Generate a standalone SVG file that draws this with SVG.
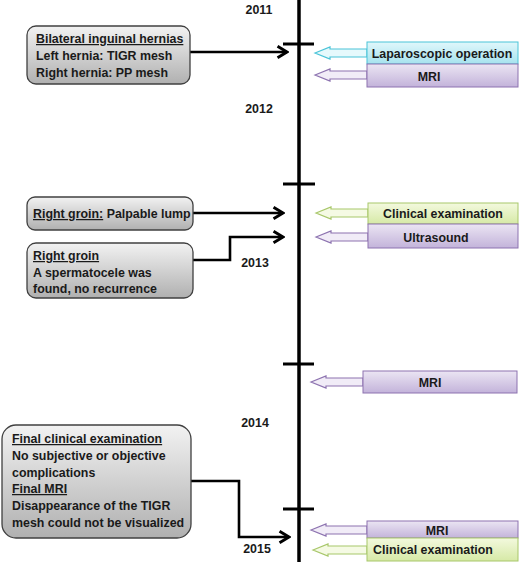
<svg xmlns="http://www.w3.org/2000/svg" width="520" height="562" viewBox="0 0 520 562">
<defs>
<linearGradient id="gGray" x1="0" y1="0" x2="0" y2="1"><stop offset="0" stop-color="#f2f2f2"/><stop offset="1" stop-color="#b0b0b0"/></linearGradient>
<linearGradient id="gCyan" x1="0" y1="0" x2="0" y2="1"><stop offset="0" stop-color="#e0f7fb"/><stop offset="1" stop-color="#a6e3ee"/></linearGradient>
<linearGradient id="gPurple" x1="0" y1="0" x2="0" y2="1"><stop offset="0" stop-color="#ebe5f3"/><stop offset="1" stop-color="#c3b3da"/></linearGradient>
<linearGradient id="gGreen" x1="0" y1="0" x2="0" y2="1"><stop offset="0" stop-color="#f3f9de"/><stop offset="1" stop-color="#d6e9a6"/></linearGradient>
<marker id="ah" viewBox="0 0 10 10" refX="8.5" refY="5" markerWidth="5.2" markerHeight="5.2" orient="auto" markerUnits="strokeWidth">
<path d="M1.5,0.8 L8.5,5 L1.5,9.2" fill="none" stroke="#000" stroke-width="2.2"/>
</marker>
<style>
text{font-family:"Liberation Sans",Arial,sans-serif;font-weight:bold;font-size:12.4px;fill:#1a1a1a}
.box{fill:url(#gGray);stroke:#404040;stroke-width:1.3}
.con{fill:none;stroke:#000;stroke-width:2.6;marker-end:url(#ah)}
.cy{fill:url(#gCyan);stroke:#4bc4d8;stroke-width:1}
.pu{fill:url(#gPurple);stroke:#8d73b0;stroke-width:1}
.gr{fill:url(#gGreen);stroke:#a8c76a;stroke-width:1}
.cya{fill:#e6f9fc;stroke:#4bc4d8;stroke-width:1.2}
.pua{fill:#f1ecf7;stroke:#8d73b0;stroke-width:1.2}
.gra{fill:#f5fae4;stroke:#a8c76a;stroke-width:1.2}
.c{text-anchor:middle}
.u{text-decoration:underline}
</style>
</defs>

<g id="timeline">
<line x1="299" y1="0" x2="299" y2="562" stroke="#000" stroke-width="3.5"/>
<line x1="283" y1="44" x2="314" y2="44" stroke="#000" stroke-width="3"/>
<line x1="283" y1="184" x2="315" y2="184" stroke="#000" stroke-width="3"/>
<line x1="283" y1="364" x2="314" y2="364" stroke="#000" stroke-width="3"/>
<line x1="283" y1="509" x2="314" y2="509" stroke="#000" stroke-width="3"/>
</g>

<g id="years">
<text x="259" y="14" class="c">2011</text>
<text x="259" y="113" class="c">2012</text>
<text x="255" y="267" class="c">2013</text>
<text x="255" y="427" class="c">2014</text>
<text x="257" y="553" class="c">2015</text>
</g>

<g id="connectors">
<path class="con" d="M190,52 H287"/>
<path class="con" d="M193,213 H283"/>
<path class="con" d="M193,260 H230 V237 H283"/>
<path class="con" d="M191,481 H239 V537 H289"/>
</g>

<g id="box1">
<rect class="box" x="27" y="26" width="163" height="58" rx="9"/>
<text x="36" y="43" class="u">Bilateral inguinal hernias</text>
<text x="36" y="60">Left hernia: TIGR mesh</text>
<text x="36" y="77">Right hernia: PP mesh</text>
</g>

<g id="box2">
<rect class="box" x="27" y="197" width="166" height="33" rx="8"/>
<text x="33" y="218"><tspan class="u">Right groin:</tspan> Palpable lump</text>
</g>

<g id="box3">
<rect class="box" x="27" y="243" width="166" height="55" rx="9"/>
<text x="33" y="260" class="u">Right groin</text>
<text x="33" y="277">A spermatocele was</text>
<text x="33" y="293">found, no recurrence</text>
</g>

<g id="box4">
<rect class="box" x="2" y="425" width="189" height="113" rx="14"/>
<text x="12" y="443" class="u">Final clinical examination</text>
<text x="12" y="460">No subjective or objective</text>
<text x="12" y="477">complications</text>
<text x="12" y="493" class="u">Final MRI</text>
<text x="12" y="510">Disappearance of the TIGR</text>
<text x="12" y="527">mesh could not be visualized</text>
</g>

<g id="lap">
<polygon class="cya" points="315,53 330,47 330,49 367,49 367,57 330,57 330,59"/>
<rect class="cy" x="367" y="42" width="151" height="22"/>
<text x="442" y="58" class="c">Laparoscopic operation</text>
</g>
<g id="mri1">
<polygon class="pua" points="315,75 330,69 330,71 367,71 367,79 330,79 330,81"/>
<rect class="pu" x="367" y="64" width="151" height="23"/>
<text x="429" y="81" class="c">MRI</text>
</g>

<g id="clin1">
<polygon class="gra" points="316,213 331,207 331,209 368,209 368,217 331,217 331,219"/>
<rect class="gr" x="368" y="203" width="150" height="21"/>
<text x="443" y="218" class="c">Clinical examination</text>
</g>
<g id="us">
<polygon class="pua" points="316,237 331,231 331,233 368,233 368,241 331,241 331,243"/>
<rect class="pu" x="368" y="224" width="150" height="24"/>
<text x="436" y="242" class="c">Ultrasound</text>
</g>

<g id="mri2">
<polygon class="pua" points="311,382 326,376 326,378 363,378 363,386 326,386 326,388"/>
<rect class="pu" x="363" y="371" width="154" height="22"/>
<text x="430" y="387" class="c">MRI</text>
</g>

<g id="mri3">
<polygon class="pua" points="311,530 326,524 326,526 367,526 367,534 326,534 326,536"/>
<rect class="pu" x="367" y="521" width="151" height="17"/>
<text x="437" y="535" class="c">MRI</text>
</g>
<g id="clin2">
<polygon class="gra" points="313,550 328,544 328,546 367,546 367,554 328,554 328,556"/>
<rect class="gr" x="367" y="538" width="151" height="23"/>
<text x="433" y="554" class="c">Clinical examination</text>
</g>
</svg>
